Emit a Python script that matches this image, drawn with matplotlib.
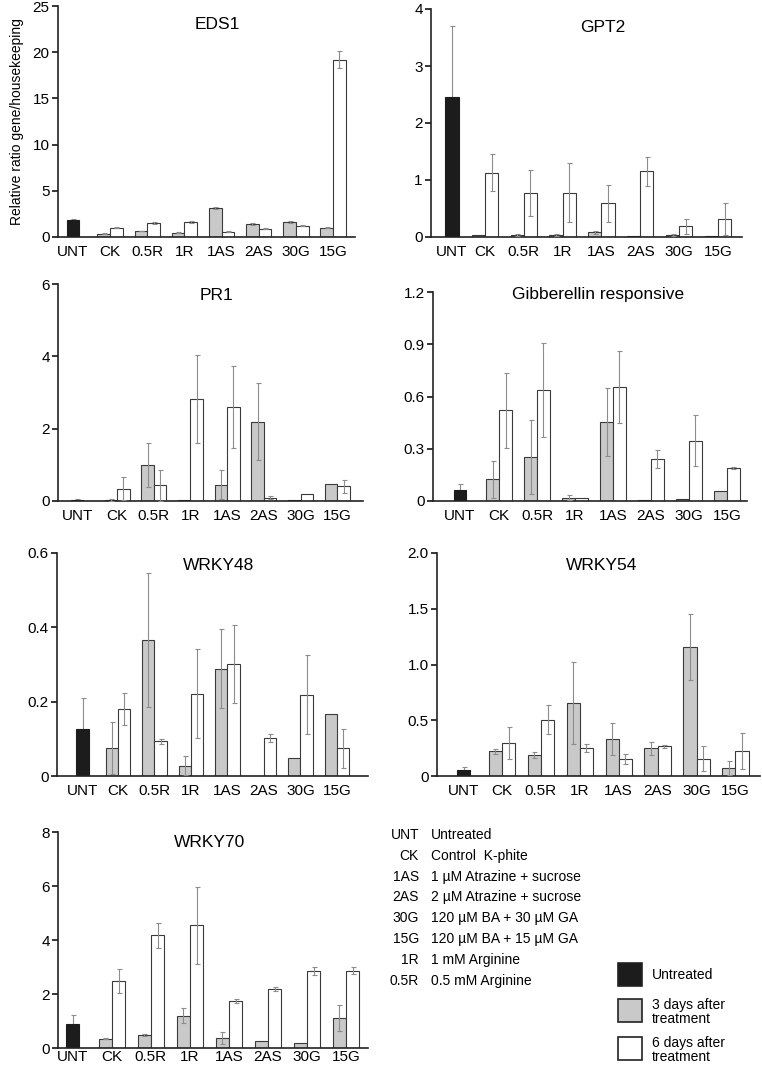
import numpy as np
import matplotlib
matplotlib.use("Agg")
import matplotlib.pyplot as plt
from matplotlib.patches import Rectangle

plt.rcParams['font.family'] = ['Liberation Sans', 'DejaVu Sans']

categories = ["UNT", "CK", "0.5R", "1R", "1AS", "2AS", "30G", "15G"]

# werte: (untreated, fehler), 3 Tage + fehler, 6 Tage + fehler
eds1_unt, eds1_unt_err = 1.8, 0.2
eds1_d3 = [0.36, 0.65, 0.47, 3.14, 1.45, 1.6, 0.98]
eds1_d3_err = [0.05, 0.05, 0.05, 0.15, 0.1, 0.08, 0.05]
eds1_d6 = [0.98, 1.5, 1.6, 0.58, 0.87, 1.23, 19.2]
eds1_d6_err = [0.05, 0.08, 0.1, 0.03, 0.05, 0.08, 0.95]

gpt2_unt, gpt2_unt_err = 2.45, 1.26
gpt2_d3 = [0.03, 0.03, 0.03, 0.08, 0.02, 0.03, 0.01]
gpt2_d3_err = [0, 0.02, 0.02, 0.03, 0, 0.02, 0]
gpt2_d6 = [1.13, 0.77, 0.78, 0.59, 1.15, 0.19, 0.31]
gpt2_d6_err = [0.32, 0.4, 0.52, 0.33, 0.26, 0.13, 0.28]

pr1_unt, pr1_unt_err = 0.04, 0.02
pr1_d3 = [0.03, 1.0, 0.02, 0.45, 2.19, 0.02, 0.47]
pr1_d3_err = [0.02, 0.6, 0, 0.4, 1.06, 0, 0]
pr1_d6 = [0.34, 0.43, 2.83, 2.6, 0.09, 0.19, 0.41]
pr1_d6_err = [0.32, 0.42, 1.22, 1.14, 0.04, 0, 0.18]

gib_unt, gib_unt_err = 0.061, 0.038
gib_d3 = [0.124, 0.253, 0.019, 0.452, 0.006, 0.01, 0.057]
gib_d3_err = [0.108, 0.214, 0.015, 0.195, 0, 0, 0]
gib_d6 = [0.52, 0.64, 0.019, 0.656, 0.241, 0.346, 0.191]
gib_d6_err = [0.215, 0.27, 0, 0.207, 0.052, 0.145, 0.005]

w48_unt, w48_unt_err = 0.127, 0.084
w48_d3 = [0.075, 0.366, 0.028, 0.289, 0, 0.048, 0.167]
w48_d3_err = [0.07, 0.18, 0.025, 0.107, 0, 0, 0]
w48_d6 = [0.181, 0.093, 0.221, 0.301, 0.102, 0.219, 0.074]
w48_d6_err = [0.043, 0.007, 0.12, 0.105, 0.01, 0.106, 0.052]

w54_unt, w54_unt_err = 0.05, 0.028
w54_d3 = [0.22, 0.186, 0.653, 0.329, 0.248, 1.156, 0.072]
w54_d3_err = [0.02, 0.027, 0.368, 0.144, 0.057, 0.296, 0.063]
w54_d6 = [0.293, 0.506, 0.248, 0.15, 0.266, 0.156, 0.225]
w54_d6_err = [0.144, 0.132, 0.036, 0.045, 0.012, 0.11, 0.161]

w70_unt, w70_unt_err = 0.886, 0.345
w70_d3 = [0.345, 0.48, 1.2, 0.37, 0.25, 0.18, 1.1]
w70_d3_err = [0.03, 0.03, 0.27, 0.22, 0, 0, 0.48]
w70_d6 = [2.47, 4.17, 4.54, 1.73, 2.18, 2.84, 2.87]
w70_d6_err = [0.45, 0.47, 1.44, 0.08, 0.07, 0.15, 0.12]

abbrevs = ["UNT", "CK", "1AS", "2AS", "30G", "15G", "1R", "0.5R"]
meanings = ["Untreated", "Control  K-phite", "1 µM Atrazine + sucrose",
            "2 µM Atrazine + sucrose", "120 µM BA + 30 µM GA",
            "120 µM BA + 15 µM GA", "1 mM Arginine", "0.5 mM Arginine"]
legend_labels = ["Untreated", "3 days after\ntreatment", "6 days after\ntreatment"]

BLACK = "#1c1c1c"
GRAY = "#c9c9c9"
EDGE = "#3a3a3a"
ERRC = "#8c8c8c"

W, H = 762, 1066
fig = plt.figure(figsize=(W / 100, H / 100), dpi=100)


def px_axes(left, right, top, bottom):
    return fig.add_axes([left / W, 1 - bottom / H, (right - left) / W, (bottom - top) / H])


# title, werte, ylim/ticks, pixel-box, xlim, x der UNT-Saeule, Titelpos, label-pad
panels = [
    ("EDS1", (eds1_unt, eds1_unt_err, eds1_d3, eds1_d3_err, eds1_d6, eds1_d6_err),
     [0, 5, 10, 15, 20, 25], ["0", "5", "10", "15", "20", "25"],
     (58, 355, 6, 237), (-0.40, 7.59), 0.0, (0.535, 0.918), 6),
    ("GPT2", (gpt2_unt, gpt2_unt_err, gpt2_d3, gpt2_d3_err, gpt2_d6, gpt2_d6_err),
     [0, 1, 2, 3, 4], ["0", "1", "2", "3", "4"],
     (431, 742, 9, 237), (-0.39, 7.62), 0.15, (0.553, 0.917), 6),
    ("PR1", (pr1_unt, pr1_unt_err, pr1_d3, pr1_d3_err, pr1_d6, pr1_d6_err),
     [0, 2, 4, 6], ["0", "2", "4", "6"],
     (58, 363, 284, 501), (-0.61, 7.70), -0.09, (0.52, 0.945), 6),
    ("Gibberellin responsive", (gib_unt, gib_unt_err, gib_d3, gib_d3_err, gib_d6, gib_d6_err),
     [0, 0.3, 0.6, 0.9, 1.2], ["0", "0.3", "0.6", "0.9", "1.2"],
     (433, 747, 292, 501), (-0.74, 7.53), -0.03, (0.525, 0.986), 6),
    ("WRKY48", (w48_unt, w48_unt_err, w48_d3, w48_d3_err, w48_d6, w48_d6_err),
     [0, 0.2, 0.4, 0.6], ["0", "0.2", "0.4", "0.6"],
     (57, 368, 553, 776), (-0.67, 7.85), 0.03, (0.52, 0.946), 6),
    ("WRKY54", (w54_unt, w54_unt_err, w54_d3, w54_d3_err, w54_d6, w54_d6_err),
     [0, 0.5, 1.0, 1.5, 2.0], ["0", "0.5", "1.0", "1.5", "2.0"],
     (437, 760, 553, 776), (-0.67, 7.63), 0.02, (0.51, 0.946), 6),
    ("WRKY70", (w70_unt, w70_unt_err, w70_d3, w70_d3_err, w70_d6, w70_d6_err),
     [0, 2, 4, 6, 8], ["0", "2", "4", "6", "8"],
     (58, 368, 832, 1048), (-0.38, 7.56), 0.0, (0.49, 0.95), 1.5),
]

bw = 0.34
for i, (title, vals, yt, ytl, box, xl, unt_x, tpos, xpad) in enumerate(panels):
    unt, unt_err, d3, d3_err, d6, d6_err = vals
    ax = px_axes(*box)
    x = np.arange(1, 8)
    d3 = np.array(d3); d6 = np.array(d6)
    d3_err = np.array(d3_err); d6_err = np.array(d6_err)

    # UNT fehlerbalken hinter der schwarzen Saeule
    ax.errorbar(unt_x, unt, yerr=unt_err, fmt="none", ecolor=ERRC, elinewidth=0.8,
                capsize=1.8, capthick=0.8, zorder=1)
    ax.bar(unt_x, unt, width=bw, color=BLACK, edgecolor=BLACK, linewidth=0.8, zorder=2)
    ax.bar(x - bw / 2, d3, width=bw, color=GRAY, edgecolor=EDGE, linewidth=0.8, zorder=2)
    ax.bar(x + bw / 2, d6, width=bw, color="white", edgecolor=EDGE, linewidth=0.8, zorder=2)
    m3 = d3_err > 0
    m6 = d6_err > 0
    ax.errorbar((x - bw / 2)[m3], d3[m3], yerr=d3_err[m3], fmt="none", ecolor=ERRC,
                elinewidth=0.8, capsize=1.8, capthick=0.8, zorder=3)
    ax.errorbar((x + bw / 2)[m6], d6[m6], yerr=d6_err[m6], fmt="none", ecolor=ERRC,
                elinewidth=0.8, capsize=1.8, capthick=0.8, zorder=3)

    ax.set_xlim(*xl)
    ax.set_ylim(0, yt[-1])
    ax.set_yticks(yt)
    ax.set_yticklabels(ytl, fontsize=11)
    ax.set_xticks([unt_x] + list(x))
    ax.set_xticklabels(categories, fontsize=11)
    ax.tick_params(axis="x", length=0, pad=xpad)
    ax.tick_params(axis="y", length=4, width=1.1, pad=2, direction="out")
    for s in ["top", "right"]:
        ax.spines[s].set_visible(False)
    for s in ["left", "bottom"]:
        ax.spines[s].set_linewidth(1.2)
        ax.spines[s].set_color("#222222")
    ax.patch.set_alpha(0)
    ax.text(tpos[0], tpos[1], title, transform=ax.transAxes, ha="center", va="center",
            fontsize=12.5)
    if i == 0:
        ax.set_ylabel("Relative ratio gene/housekeeping", fontsize=10, labelpad=6)

# Abkuerzungen
for k, (a, m) in enumerate(zip(abbrevs, meanings)):
    yy = 1 - (835 + k * 20.8) / H
    fig.text(419 / W, yy, a, ha="right", va="center", fontsize=10)
    fig.text(431 / W, yy, m, ha="left", va="center", fontsize=10)

# Legende
leg_colors = [BLACK, GRAY, "white"]
leg_tops = [963, 999, 1037]
leg_text_y = [975, 1012, 1050]
for c, t, lab, ty in zip(leg_colors, leg_tops, legend_labels, leg_text_y):
    fig.patches.append(Rectangle((618 / W, 1 - (t + 23) / H), 24 / W, 23 / H,
                                 transform=fig.transFigure, facecolor=c,
                                 edgecolor="#222222", linewidth=1.2))
    fig.text(652 / W, 1 - ty / H, lab, ha="left", va="center", fontsize=10,
             linespacing=1.05)

fig.savefig("out.png", dpi=100)
